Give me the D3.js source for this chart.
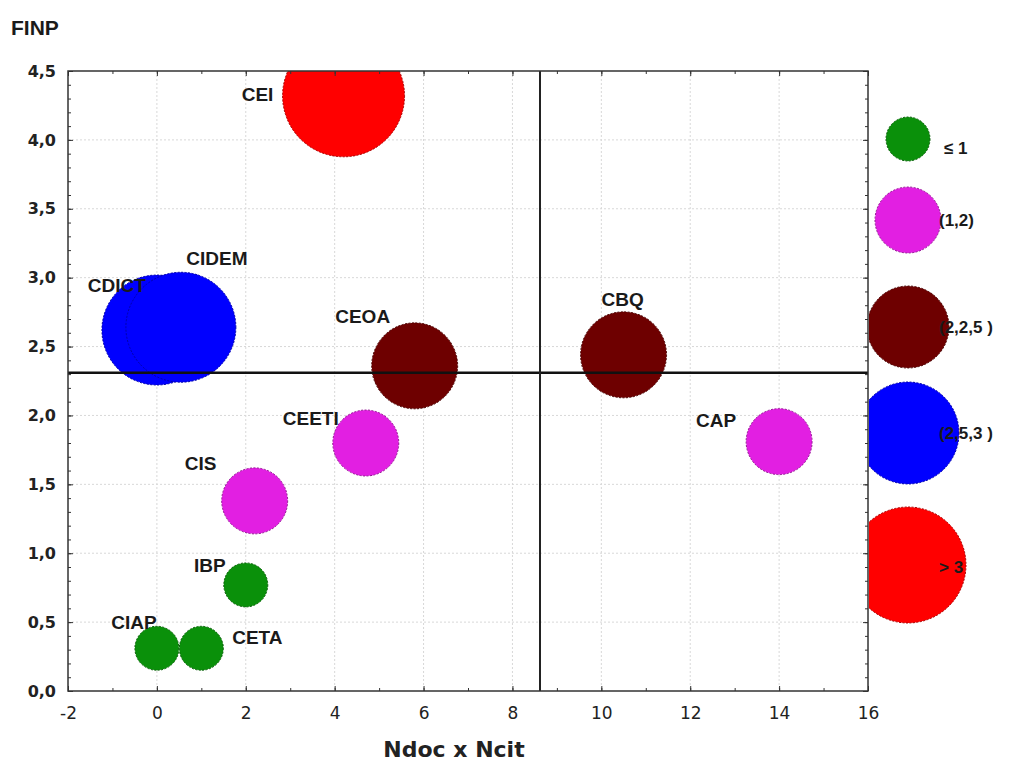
<!DOCTYPE html>
<html>
<head>
<meta charset="utf-8">
<script src="https://cdn.jsdelivr.net/npm/d3@7"></script>
<style>
  html, body { margin: 0; padding: 0; background: #fff; }
  svg { display: block; }
</style>
</head>
<body>
<svg id="chart" width="1010" height="764"></svg>
<script>
// ---------------- DATA ----------------
const names   = ["CEI", "CDICT", "CIDEM", "CEOA", "CBQ", "CEETI", "CIS", "CAP", "IBP", "CIAP", "CETA"];
const xValues = [4.2, 0.0, 0.54, 5.8, 10.5, 4.7, 2.2, 14.0, 2.0, 0.0, 1.0];
const yValues = [4.32, 2.62, 2.64, 2.36, 2.44, 1.80, 1.38, 1.81, 0.77, 0.31, 0.31];
const classOf = ["> 3", "(2,5,3 )", "(2,5,3 )", "(2,2,5 )", "(2,2,5 )", "(1,2)", "(1,2)", "(1,2)", "≤ 1", "≤ 1", "≤ 1"];

const legendClasses = ["≤ 1", "(1,2)", "(2,2,5 )", "(2,5,3 )", "> 3"];
const classColors   = ["#0a900a", "#e21fe2", "#6e0000", "#0000ff", "#ff0000"];

const xTicks = [-2, 0, 2, 4, 6, 8, 10, 12, 14, 16];
const yTicks = [0, 0.5, 1.0, 1.5, 2.0, 2.5, 3.0, 3.5, 4.0, 4.5];

const refX = 8.62;   // vertical reference line
const refY = 2.31;   // horizontal reference line

const xTitle = "Ndoc x Ncit";
const yTitle = "FINP";

// ---------------- LAYOUT ----------------
const L = 68, R = 868, T = 71, B = 691;
const bubbleRadii = [22, 33, 43, 55, 61];
const legendRadii = [22, 33, 41, 51, 58];
const legendCx = 908;
const legendCy = [139, 220, 327, 433, 565];
const labelOffsets = {
  CEI: [-86, -2], CDICT: [-40, -45], CIDEM: [36, -69], CEOA: [-52, -50],
  CBQ: [-1, -56], CEETI: [-55, -25], CIS: [-54, -38], CAP: [-63, -21],
  IBP: [-36, -20], CIAP: [-23, -26], CETA: [56, -11]
};

const svg = d3.select("#chart");
const x = d3.scaleLinear().domain([-2, 16]).range([L, R]);
const y = d3.scaleLinear().domain([0, 4.5]).range([B, T]);
const color = d3.scaleOrdinal().domain(legendClasses).range(classColors);
const radius = d3.scaleOrdinal().domain(legendClasses).range(bubbleRadii);
const legRadius = d3.scaleOrdinal().domain(legendClasses).range(legendRadii);

const data = names.map((n, i) => ({ name: n, x: xValues[i], y: yValues[i], cls: classOf[i] }));

const defs = svg.append("defs");
defs.append("clipPath").attr("id", "plotClip")
  .append("rect").attr("x", L).attr("y", T).attr("width", R - L).attr("height", B - T);
defs.append("clipPath").attr("id", "legClip")
  .append("rect").attr("x", R + 1).attr("y", 0).attr("width", 1010 - R).attr("height", 764);

// gridlines
const grid = svg.append("g").attr("stroke", "#d8d8d8").attr("stroke-width", 1).attr("stroke-dasharray", "2,2");
grid.selectAll("line.gx").data(xTicks.slice(1, -1)).join("line")
  .attr("x1", d => x(d)).attr("x2", d => x(d)).attr("y1", T).attr("y2", B);
grid.selectAll("line.gy").data(yTicks.slice(1, -1)).join("line")
  .attr("y1", d => y(d)).attr("y2", d => y(d)).attr("x1", L).attr("x2", R);

// bubbles
const bub = svg.append("g").attr("clip-path", "url(#plotClip)");
bub.selectAll("circle").data(data).join("circle")
  .attr("cx", d => x(d.x)).attr("cy", d => y(d.y))
  .attr("r", d => radius(d.cls))
  .attr("fill", d => color(d.cls))
  .attr("stroke", d => d3.color(color(d.cls)).darker(1.2))
  .attr("stroke-width", 1)
  .attr("stroke-dasharray", "2,1.5");

// reference lines
svg.append("line").attr("x1", L).attr("x2", R).attr("y1", y(refY)).attr("y2", y(refY))
  .attr("stroke", "#111").attr("stroke-width", 2.5);
svg.append("line").attr("x1", x(refX)).attr("x2", x(refX)).attr("y1", T).attr("y2", B)
  .attr("stroke", "#222").attr("stroke-width", 2);

// axes (ticks inward, on all four sides)
const xMinor = d3.range(-2, 16.01, 1);
const yMinor = d3.range(0, 4.501, 0.1);
const fmtY = d => d3.format(".1f")(d).replace(".", ",");
const fmtX = d => String(d);

const axB = svg.append("g").attr("transform", `translate(0,${B})`)
  .call(d3.axisBottom(x).tickValues(xTicks).tickSize(-5).tickPadding(16).tickFormat(fmtX));
axB.select(".domain").remove();
axB.selectAll("text").attr("font-family", "DejaVu Sans, sans-serif").attr("font-size", 17).attr("fill", "#222");
svg.append("g").attr("transform", `translate(0,${B})`)
  .call(d3.axisBottom(x).tickValues(xMinor).tickSize(-3).tickFormat(""))
  .select(".domain").remove();

const axT = svg.append("g").attr("transform", `translate(0,${T})`)
  .call(d3.axisTop(x).tickValues(xTicks).tickSize(-5).tickFormat(""));
axT.select(".domain").remove();
svg.append("g").attr("transform", `translate(0,${T})`)
  .call(d3.axisTop(x).tickValues(xMinor).tickSize(-3).tickFormat(""))
  .select(".domain").remove();

const axL = svg.append("g").attr("transform", `translate(${L},0)`)
  .call(d3.axisLeft(y).tickValues(yTicks).tickSize(-5).tickPadding(12).tickFormat(fmtY));
axL.select(".domain").remove();
axL.selectAll("text").attr("font-family", "DejaVu Sans, sans-serif").attr("font-weight", "bold")
  .attr("font-size", 16).attr("fill", "#222");
svg.append("g").attr("transform", `translate(${L},0)`)
  .call(d3.axisLeft(y).tickValues(yMinor).tickSize(-3).tickFormat(""))
  .select(".domain").remove();

svg.append("g").attr("transform", `translate(${R},0)`)
  .call(d3.axisRight(y).tickValues(yTicks).tickSize(-5).tickFormat(""))
  .select(".domain").remove();
svg.append("g").attr("transform", `translate(${R},0)`)
  .call(d3.axisRight(y).tickValues(yMinor).tickSize(-3).tickFormat(""))
  .select(".domain").remove();

svg.selectAll(".tick line").attr("stroke", "#333");

// frame
svg.append("rect").attr("x", L).attr("y", T).attr("width", R - L).attr("height", B - T)
  .attr("fill", "none").attr("stroke", "#333").attr("stroke-width", 1.5);

// bubble labels
svg.append("g").selectAll("text").data(data).join("text")
  .attr("x", d => x(d.x) + labelOffsets[d.name][0])
  .attr("y", d => y(d.y) + labelOffsets[d.name][1])
  .attr("dy", "0.36em")
  .attr("text-anchor", "middle")
  .attr("font-family", "Liberation Sans, Arial, sans-serif")
  .attr("font-weight", "bold").attr("font-size", 19).attr("fill", "#1a1a1a")
  .text(d => d.name);

// legend
const leg = svg.append("g");
leg.append("g").attr("clip-path", "url(#legClip)")
  .selectAll("circle").data(legendClasses).join("circle")
  .attr("cx", legendCx).attr("cy", (d, i) => legendCy[i])
  .attr("r", d => legRadius(d))
  .attr("fill", d => color(d))
  .attr("stroke", d => d3.color(color(d)).darker(1.2))
  .attr("stroke-width", 1).attr("stroke-dasharray", "2,1.5");
leg.selectAll("text").data(legendClasses).join("text")
  .attr("x", (d, i) => i === 0 ? 944 : 939)
  .attr("y", (d, i) => legendCy[i] + (i === 0 ? 9 : i === 4 ? 2 : 0))
  .attr("dy", "0.36em")
  .attr("font-family", "Liberation Sans, Arial, sans-serif")
  .attr("font-weight", "bold").attr("font-size", 17).attr("fill", "#1a1a1a")
  .text(d => d);

// titles
svg.append("text").attr("x", 11).attr("y", 35)
  .attr("font-family", "Liberation Sans, Arial, sans-serif").attr("font-weight", "bold")
  .attr("font-size", 21).attr("fill", "#1a1a1a").text(yTitle);
svg.append("text").attr("x", 454).attr("y", 757).attr("text-anchor", "middle")
  .attr("font-family", "DejaVu Sans, sans-serif").attr("font-weight", "bold")
  .attr("font-size", 22).attr("fill", "#222").text(xTitle);
</script>
</body>
</html>
